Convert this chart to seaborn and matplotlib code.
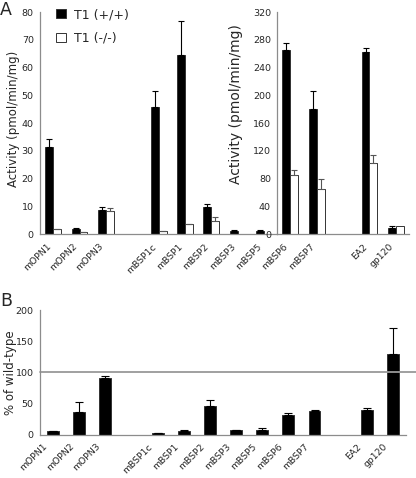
import numpy as np
import pandas as pd
import matplotlib
matplotlib.use("Agg")
import matplotlib.pyplot as plt
import matplotlib.transforms as mtransforms
import seaborn as sns

# data
genes = ['mOPN1', 'mOPN2', 'mOPN3', 'mBSP1c', 'mBSP1', 'mBSP2', 'mBSP3',
         'mBSP5', 'mBSP6', 'mBSP7', 'EA2', 'gp120']
wt = [31.4, 2.0, 8.9, 46.0, 64.6, 9.7, 1.3, 1.1, 265, 180, 262.6, 9.7]
wt_err = [2.9, 0.3, 1.1, 5.7, 12.0, 1.2, 0.2, 0.5, 11, 26, 5.5, 2.8]
ko = [1.8, 0.8, 8.3, 1.2, 3.6, 4.8, 0.2, 0.3, 85, 65.5, 103, 11.7]
ko_err = [0.2, 0.1, 1.1, 0.2, 0.3, 1.3, 0.0, 0.0, 8, 14.5, 10.6, 0.0]
pct = [5.3, 35.8, 90.4, 2.0, 6.0, 46.0, 7.0, 8.0, 31.6, 37.0, 39.7, 129.5]
pct_err = [0.3, 16.7, 3.9, 0.3, 0.7, 9.6, 0.3, 2.7, 2.6, 2.7, 2.7, 41.0]

genotypes = ['T1 (+/+)', 'T1 (-/-)']
order_left = ['mOPN1', 'mOPN2', 'mOPN3', '_g1', 'mBSP1c', 'mBSP1', 'mBSP2', 'mBSP3', 'mBSP5']
order_right = ['mBSP6', 'mBSP7', '_g2', 'EA2', 'gp120']
order_all = order_left + order_right

sns.set_style("white")
plt.rcParams['font.family'] = ['DejaVu Sans']
grey = '#8c8c8c'

long = pd.DataFrame({
    'gene': genes * 2,
    'genotype': [genotypes[0]] * len(genes) + [genotypes[1]] * len(genes),
    'activity': wt + ko,
    'err': wt_err + ko_err,
})
pct_df = pd.DataFrame({'gene': genes, 'pct': pct, 'err': pct_err})

W, H = 416, 478
fig = plt.figure(figsize=(W / 100, H / 100), dpi=100)


def px_axes(x0, y0, x1, y1):
    return fig.add_axes([x0 / W, 1 - y1 / H, (x1 - x0) / W, (y1 - y0) / H])


axL = px_axes(40, 12, 277.2, 234.4)
axR = px_axes(277.2, 12, 409, 234.4)
axB = px_axes(40, 310, 406, 434.5)

pal = {genotypes[0]: 'black', genotypes[1]: 'white'}
err_col = {genotypes[0]: 'black', genotypes[1]: '#555555'}


def style_axis(ax, order, yticks, ylim):
    ax.set_xlim(-0.5, len(order) - 0.5)
    ax.set_ylim(*ylim)
    ax.set_yticks(yticks)
    ax.set_xticks(range(len(order)))
    ax.set_xticklabels(['' if g.startswith('_') else g for g in order],
                       rotation=45, ha='right', va='top', rotation_mode='anchor',
                       fontsize=6.7)
    ax.set_xticks(np.arange(-0.5, len(order)), minor=True)
    ax.tick_params(axis='x', which='major', length=0, pad=4)
    ax.tick_params(axis='x', which='minor', length=3.5, color=grey, width=0.8, direction='out')
    ax.tick_params(axis='y', length=3, color=grey, width=0.8, labelsize=6.8, pad=1.5, direction='out')
    for s in ['top', 'right']:
        ax.spines[s].set_visible(False)
    for s in ['left', 'bottom']:
        ax.spines[s].set_color(grey)
        ax.spines[s].set_linewidth(0.9)
    ax.set_xlabel('')
    ax.grid(False)


def panel_a(ax, order):
    sub = long[long['gene'].isin(order)]
    sns.barplot(data=sub, x='gene', y='activity', hue='genotype', order=order,
                hue_order=genotypes, palette=pal, width=0.6, gap=0,
                edgecolor='#333333', linewidth=0.7, errorbar=None, ax=ax)
    for cont, gt in zip(ax.containers, genotypes):
        for bar in cont:
            h = bar.get_height()
            if np.isnan(h) or h == 0:
                continue
            xc = bar.get_x() + bar.get_width() / 2
            gene = order[int(round(xc))]
            e = sub[(sub['gene'] == gene) & (sub['genotype'] == gt)]['err'].iloc[0]
            if e > 0:
                ax.errorbar(xc, h, yerr=[[0], [e]], fmt='none', ecolor=err_col[gt],
                            elinewidth=0.8, capsize=2.5, capthick=0.8)
    if ax.get_legend() is not None:
        ax.get_legend().remove()


panel_a(axL, order_left)
panel_a(axR, order_right)
style_axis(axL, order_left, np.arange(0, 81, 10), (0, 80))
style_axis(axR, order_right, np.arange(0, 321, 40), (0, 320))

axL.set_ylabel('Activity (pmol/min/mg)', fontsize=8.5)
axL.yaxis.set_label_coords(-20 / 237.2, 0.52)
axR.set_ylabel('Activity (pmol/min/mg)', fontsize=10)
axR.yaxis.set_label_coords(-34 / 131.8, 0.585)

handles, labels = axL.get_legend_handles_labels()
axL.legend(handles[:2], labels[:2], loc='upper left', bbox_to_anchor=(56 / W, 1 - 8 / H),
           bbox_transform=fig.transFigure, frameon=False, fontsize=9,
           handlelength=0.8, handleheight=0.8, handletextpad=0.6,
           labelspacing=0.85, borderpad=0, borderaxespad=0)

# panel B
sns.barplot(data=pct_df, x='gene', y='pct', order=order_all, color='black',
            width=0.45, edgecolor='#333333', linewidth=0.7, errorbar=None, ax=axB)
for bar in axB.containers[0]:
    h = bar.get_height()
    if np.isnan(h) or h == 0:
        continue
    xc = bar.get_x() + bar.get_width() / 2
    gene = order_all[int(round(xc))]
    e = pct_df.loc[pct_df['gene'] == gene, 'err'].iloc[0]
    axB.errorbar(xc, h, yerr=[[0], [e]], fmt='none', ecolor='black',
                 elinewidth=0.8, capsize=3, capthick=0.8)
style_axis(axB, order_all, np.arange(0, 201, 50), (0, 200))
axB.axhline(100, xmin=0, xmax=(W - 40) / 366, clip_on=False, color='#999999', lw=1.3)
axB.set_ylabel('% of wild-type', fontsize=8.5)
axB.yaxis.set_label_coords(-23 / 366, 0.5)

# shift rotated tick labels so their ends sit like the original
for ax, dx, dy in [(axL, -7, -2), (axR, -7, -2), (axB, -10, -2)]:
    off = mtransforms.ScaledTranslation(dx / 100, dy / 100, fig.dpi_scale_trans)
    for lab in ax.get_xticklabels():
        lab.set_transform(lab.get_transform() + off)

fig.text(0 / W, 1 - 1 / H, 'A', fontsize=12.5, va='top', ha='left')
fig.text(0 / W, 1 - 292 / H, 'B', fontsize=12.5, va='top', ha='left')

fig.savefig('out.png', dpi=100)
